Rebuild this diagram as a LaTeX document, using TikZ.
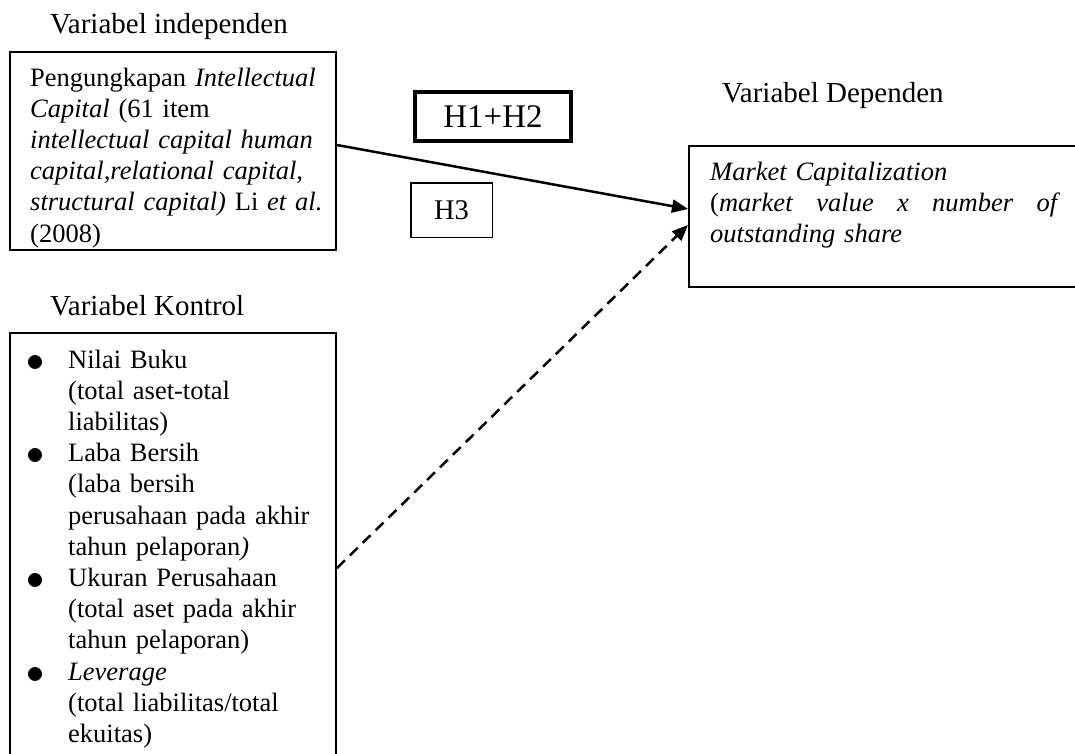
\documentclass[tikz,border=0pt]{standalone}
\usepackage{fontspec}
\setmainfont{Liberation Serif}
\usetikzlibrary{arrows.meta,calc}
\newcommand{\bulletitem}{\leavevmode\llap{\raisebox{-3.2pt}{\scalebox{1.45}{$\bullet$}}\hspace{23.4pt}}}
\tikzset{
  boxline/.style={draw=black, line width=2pt, inner sep=0pt, fill=none},
  headtext/.style={anchor=base west, inner sep=0pt, font=\fontsize{29}{34}\selectfont},
  bodytext/.style={anchor=base west, inner sep=0pt, align=left, font=\fontsize{26.5}{31.2}\selectfont},
  hlabel/.style={draw=black, inner sep=0pt},
  arr/.style={line width=2.5pt, -{Triangle[length=16pt,width=13pt]}},
}
\begin{document}
\begin{tikzpicture}[x=1pt,y=-1pt]
\clip (0,0) rectangle (1075,753);
\fill[white] (0,0) rectangle (1075,753);
% headings
\node[headtext] (hind) at (50,33) {Variabel independen};
\node[headtext] (hkon) at (50,315) {Variabel Kontrol};
\node[headtext] (hdep) at (722,102) {Variabel Dependen};
% boxes
\node[boxline, minimum width=326pt, minimum height=198pt] (iv) at (173,151) {};
\node[boxline, minimum width=326pt, minimum height=467pt] (kv) at (173,566.5) {};
\node[boxline, minimum width=411pt, minimum height=141pt] (dv) at (894.5,216.5) {};
% box texts
\node[bodytext, text width=320pt] (ivt) at (30,86) {Pengungkapan \textit{Intellectual}\\
\textit{Capital} (61 item\\
\textit{intellectual capital human}\\
\textit{capital,relational capital,}\\
\textit{structural capital)} Li \textit{et al.}\\
(2008)};
\node[bodytext, text width=280pt] (kvt) at (68,368) {\bulletitem Nilai Buku\\
(total aset-total\\
liabilitas)\\
\bulletitem Laba Bersih\\
(laba bersih\\
perusahaan pada akhir\\
tahun pelaporan\textit{)}\\
\bulletitem Ukuran Perusahaan\\
(total aset pada akhir\\
tahun pelaporan)\\
\bulletitem\textit{Leverage}\\
(total liabilitas/total\\
ekuitas)};
\node[bodytext, text width=360pt] (dvt) at (710,180) {\textit{Market Capitalization}\\
\leavevmode\hbox to 350pt{(\textit{market}\hfill\textit{value}\hfill\textit{x}\hfill\textit{number}\hfill\textit{of}}\\
\textit{outstanding share}};
% hypothesis labels
\node[hlabel, line width=4pt, minimum width=156pt, minimum height=49pt, font=\fontsize{33}{38}\selectfont] (h12) at (493,116.5) {H1+H2};
\node[hlabel, line width=1.5pt, minimum width=81.5pt, minimum height=54.5pt, font=\fontsize{28.5}{33}\selectfont] (h3) at (451.5,210) {H3};
% connectors
\draw[arr] ($(iv.north east)+(0,94)$) -- ($(dv.north west)+(0,64)$);
\draw[arr, dash pattern=on 11pt off 7pt] ($(kv.north east)+(0,236)$) -- ($(dv.north west)+(0,80)$);
\end{tikzpicture}
\end{document}
